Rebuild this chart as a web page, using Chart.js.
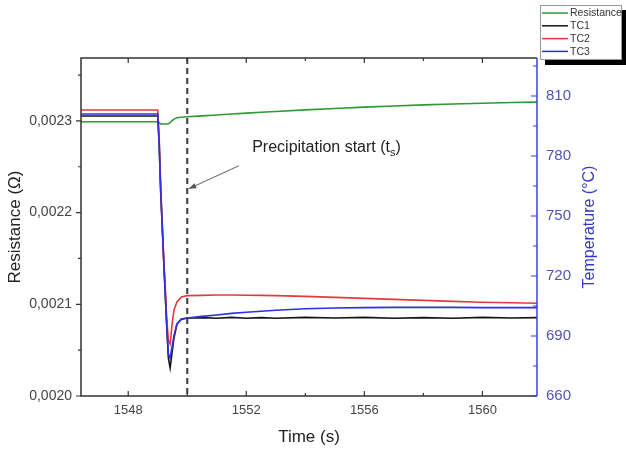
<!DOCTYPE html>
<html><head><meta charset="utf-8">
<script src="https://cdn.jsdelivr.net/npm/chart.js@4/dist/chart.umd.min.js"></script>
<style>html,body{margin:0;padding:0;background:#fff}#wrap{width:626px;height:454px;position:relative}</style>
</head><body><div id="wrap"><canvas id="c" width="626" height="454"></canvas></div>
<script>
const time = [1546.4, 1548.0, 1549.0, 1549.05, 1549.1, 1549.2, 1549.3, 1549.36, 1549.42, 1549.48, 1549.55, 1549.65, 1549.8, 1550.0, 1550.5, 1551.0, 1551.5, 1552.0, 1552.5, 1553.0, 1554.0, 1555.0, 1556.0, 1557.0, 1558.0, 1559.0, 1560.0, 1561.0, 1561.85];
const resistance = [0.002299, 0.002299, 0.002299, 0.002298, 0.0022966, 0.0022966, 0.0022966, 0.0022968, 0.002298, 0.0023, 0.002302, 0.0023035, 0.002304, 0.0023046, 0.0023055, 0.0023065, 0.0023075, 0.0023085, 0.0023095, 0.0023103, 0.002312, 0.0023135, 0.002315, 0.0023163, 0.0023175, 0.0023185, 0.0023193, 0.00232, 0.0023205];
const tc1 = [800, 800, 800, 785, 762, 728, 696, 679, 674, 681, 689, 696, 698.5, 699, 699.2, 698.9, 699.3, 698.9, 699.2, 698.9, 699.3, 699, 699.3, 698.9, 699.2, 698.9, 699.3, 699, 699.2];
const tc2 = [803, 803, 803, 788, 765, 730, 700, 688, 686, 695, 703, 707, 709.5, 710.2, 710.3, 710.5, 710.5, 710.4, 710.3, 710.2, 709.8, 709.3, 708.8, 708.3, 707.8, 707.3, 706.9, 706.6, 706.4];
const tc3 = [801, 801, 801, 786, 763, 729, 697, 681, 679, 684, 690, 696, 698.3, 699, 699.8, 700.5, 701.3, 701.9, 702.4, 702.9, 703.6, 704, 704.2, 704.3, 704.3, 704.3, 704.2, 704.2, 704.2];
const seriesNames = ['Resistance', 'TC1', 'TC2', 'TC3'];
const resistanceTicks = [0.0020, 0.0021, 0.0022, 0.0023];
const resistanceMinorTicks = [0.00205, 0.00215, 0.00225, 0.00235];
const temperatureTicks = [660, 690, 720, 750, 780, 810];
const temperatureMinorTicks = [675, 705, 735, 765, 795, 825];
const timeTicks = [1548, 1552, 1556, 1560];
const timeMinorTicks = [1550, 1554, 1558];
const precipitationStart = 1550;
const temperatureTitle = 'Temperature (\u00B0C)';
const annotationText = 'Precipitation start (t';
const annotationSub = 's';
const annotationAt = {t: 1552.2, r: 0.002266};
const arrowFrom = {t: 1551.75, r: 0.002251};
const arrowTo = {t: 1550.05, r: 0.002226};

const FONT = '"Liberation Sans", Arial, sans-serif';
const pts = vals => time.map((t, i) => ({x: t, y: vals[i]}));

const decor = {
  id: 'decor',
  afterDatasetsDraw(chart) {
    const {ctx, chartArea: a, scales} = chart;
    const x = scales.x, y = scales.y, y2 = scales.y2;
    ctx.save();
    // dashed vertical line
    const xd = x.getPixelForValue(precipitationStart);
    ctx.strokeStyle = '#3a3a3a'; ctx.lineWidth = 2; ctx.setLineDash([6, 4]);
    ctx.beginPath(); ctx.moveTo(xd, a.top); ctx.lineTo(xd, a.bottom); ctx.stroke();
    ctx.setLineDash([]);
    // frame
    ctx.strokeStyle = '#333'; ctx.lineWidth = 1.5;
    ctx.beginPath();
    ctx.moveTo(a.right, a.top); ctx.lineTo(a.left, a.top); ctx.lineTo(a.left, a.bottom); ctx.lineTo(a.right, a.bottom);
    ctx.stroke();
    ctx.lineWidth = 1.2;
    ctx.beginPath();
    resistanceTicks.forEach(v => { const p = y.getPixelForValue(v); ctx.moveTo(a.left - 5, p); ctx.lineTo(a.left, p); });
    resistanceMinorTicks.forEach(v => { const p = y.getPixelForValue(v); ctx.moveTo(a.left - 3, p); ctx.lineTo(a.left, p); });
    timeTicks.forEach(v => { const p = x.getPixelForValue(v); ctx.moveTo(p, a.bottom); ctx.lineTo(p, a.bottom - 5); ctx.moveTo(p, a.top); ctx.lineTo(p, a.top + 5); });
    timeMinorTicks.forEach(v => { const p = x.getPixelForValue(v); ctx.moveTo(p, a.bottom); ctx.lineTo(p, a.bottom - 3); ctx.moveTo(p, a.top); ctx.lineTo(p, a.top + 3); });
    ctx.stroke();
    // right axis in blue
    ctx.strokeStyle = '#3b3bf0'; ctx.lineWidth = 1.5;
    ctx.beginPath(); ctx.moveTo(a.right, a.top); ctx.lineTo(a.right, a.bottom); ctx.stroke();
    ctx.lineWidth = 1.2;
    ctx.beginPath();
    temperatureTicks.forEach(v => { const p = y2.getPixelForValue(v); ctx.moveTo(a.right - 6, p); ctx.lineTo(a.right, p); });
    temperatureMinorTicks.forEach(v => { const p = y2.getPixelForValue(v); ctx.moveTo(a.right - 4, p); ctx.lineTo(a.right, p); });
    ctx.stroke();
    // right axis title, reading bottom to top
    ctx.save();
    ctx.translate(a.right + 53, (a.top + a.bottom) / 2);
    ctx.rotate(-Math.PI / 2);
    ctx.font = '16px ' + FONT; ctx.fillStyle = '#3535c8';
    ctx.textAlign = 'center'; ctx.textBaseline = 'middle';
    ctx.fillText(temperatureTitle, 0, 0);
    ctx.restore();
    // annotation
    const tx = x.getPixelForValue(annotationAt.t), ty = y.getPixelForValue(annotationAt.r);
    ctx.fillStyle = '#222'; ctx.textBaseline = 'alphabetic'; ctx.textAlign = 'left';
    ctx.font = '16px ' + FONT;
    ctx.fillText(annotationText, tx, ty);
    let w = ctx.measureText(annotationText).width;
    ctx.font = '11px ' + FONT;
    ctx.fillText(annotationSub, tx + w, ty + 4);
    const ws = ctx.measureText(annotationSub).width;
    ctx.font = '16px ' + FONT;
    ctx.fillText(')', tx + w + ws, ty);
    // arrow
    const ax0 = x.getPixelForValue(arrowFrom.t), ay0 = y.getPixelForValue(arrowFrom.r);
    const ax1 = x.getPixelForValue(arrowTo.t), ay1 = y.getPixelForValue(arrowTo.r);
    ctx.strokeStyle = '#777'; ctx.lineWidth = 1.1;
    ctx.beginPath(); ctx.moveTo(ax0, ay0); ctx.lineTo(ax1, ay1); ctx.stroke();
    const ang = Math.atan2(ay1 - ay0, ax1 - ax0);
    ctx.fillStyle = '#555';
    ctx.beginPath();
    ctx.moveTo(ax1, ay1);
    ctx.lineTo(ax1 - 8 * Math.cos(ang - 0.35), ay1 - 8 * Math.sin(ang - 0.35));
    ctx.lineTo(ax1 - 8 * Math.cos(ang + 0.35), ay1 - 8 * Math.sin(ang + 0.35));
    ctx.closePath(); ctx.fill();
    ctx.restore();
  },
  afterDraw(chart) {
    const ctx = chart.ctx;
    ctx.save();
    const bx = 540, by = 5, bw = 82, bh = 55;
    ctx.fillStyle = '#000';
    ctx.fillRect(bx + 5, by + 5, bw, bh);
    ctx.fillStyle = '#fff';
    ctx.fillRect(bx, by, bw, bh);
    ctx.strokeStyle = '#999'; ctx.lineWidth = 1;
    ctx.strokeRect(bx + 0.5, by + 0.5, bw - 1, bh - 1);
    ctx.font = '10.5px ' + FONT; ctx.textBaseline = 'middle'; ctx.textAlign = 'left';
    chart.data.datasets.forEach((ds, i) => {
      const ly = by + 8 + i * 12.8;
      ctx.strokeStyle = ds.borderColor; ctx.lineWidth = 1.5;
      ctx.beginPath(); ctx.moveTo(bx + 2, ly); ctx.lineTo(bx + 28, ly); ctx.stroke();
      ctx.fillStyle = '#333';
      ctx.fillText(ds.label, bx + 30, ly + 0.5);
    });
    ctx.restore();
  }
};

new Chart(document.getElementById('c'), {
  type: 'line',
  data: {
    datasets: [
      {label: seriesNames[0], data: pts(resistance), yAxisID: 'y', borderColor: '#2e9a34', order: 3},
      {label: seriesNames[1], data: pts(tc1), yAxisID: 'y2', borderColor: '#151515', order: 2},
      {label: seriesNames[2], data: pts(tc2), yAxisID: 'y2', borderColor: '#e33b3b', order: 1},
      {label: seriesNames[3], data: pts(tc3), yAxisID: 'y2', borderColor: '#2f2fe6', order: 0}
    ]
  },
  options: {
    responsive: false, devicePixelRatio: 1, animation: false,
    layout: {padding: {top: 58, left: 0, right: 0, bottom: 0}},
    elements: {point: {radius: 0}, line: {borderWidth: 1.6, tension: 0}},
    plugins: {legend: {display: false}, tooltip: {enabled: false}},
    scales: {
      x: {
        type: 'linear', min: 1546.4, max: 1561.85,
        afterBuildTicks: s => { s.ticks = timeTicks.map(v => ({value: v})); },
        afterFit: s => { s.height = 58; },
        grid: {display: false, drawTicks: false}, border: {display: false},
        ticks: {font: {size: 13, family: FONT}, color: '#444', padding: 7, callback: v => String(v)},
        title: {display: true, text: 'Time (s)', font: {size: 17, family: FONT}, color: '#222', padding: {top: 0, bottom: 6}}
      },
      y: {
        position: 'left', min: 0.002, max: 0.0023686,
        afterBuildTicks: s => { s.ticks = resistanceTicks.map(v => ({value: v})); },
        afterFit: s => { s.width = 81; },
        grid: {display: false, drawTicks: false}, border: {display: false},
        ticks: {font: {size: 14, family: FONT}, color: '#444', padding: 9, callback: v => v.toFixed(4).replace('.', ',')},
        title: {display: true, text: 'Resistance (\u03A9)', font: {size: 17, family: FONT}, color: '#222', padding: {top: 5, bottom: 0}}
      },
      y2: {
        position: 'right', min: 660, max: 829,
        afterBuildTicks: s => { s.ticks = temperatureTicks.map(v => ({value: v})); },
        afterFit: s => { s.width = 89; },
        grid: {display: false, drawTicks: false}, border: {display: false},
        ticks: {font: {size: 15, family: FONT}, color: '#5252b4', padding: 9, callback: v => String(v)},
        title: {display: false}
      }
    }
  },
  plugins: [decor]
});
</script></body></html>
